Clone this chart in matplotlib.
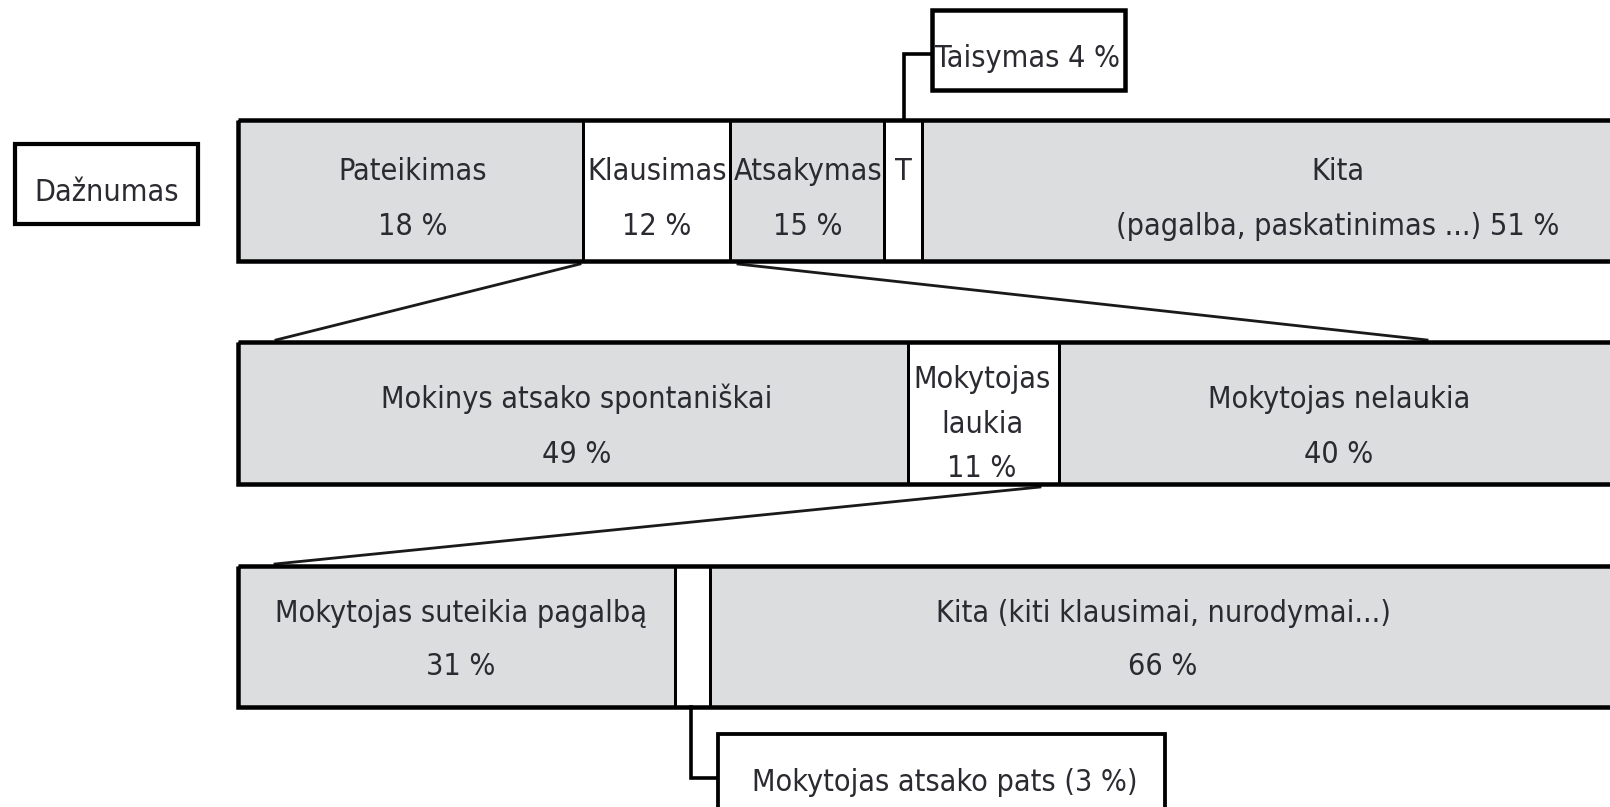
import matplotlib
matplotlib.use('Agg')
import matplotlib.pyplot as plt
from matplotlib.patches import Rectangle
from matplotlib.lines import Line2D
from matplotlib import font_manager
import numpy as np

# ---------------- data ----------------
row_title = 'Dažnumas'
top_labels = ['Pateikimas', 'Klausimas', 'Atsakymas', 'T', 'Kita\n(pagalba, paskatinimas ...)']
top_values = [18, 12, 15, 4, 51]
top_callout = 'Taisymas'
mid_labels = ['Mokinys atsako spontaniškai', 'Mokytojas\nlaukia', 'Mokytojas nelaukia']
mid_values = [49, 11, 40]
bottom_labels = ['Mokytojas suteikia pagalbą', 'Mokytojas atsako pats', 'Kita (kiti klausimai, nurodymai...)']
bottom_values = [31, 3, 66]

# ---------------- layout (pixel space) ----------------
W, H = 1610, 807
DPI = 100
GRAY = '#dcdddf'
TXT = '#2b2a30'
PX = 72.0 / DPI  # points per pixel

fig = plt.figure(figsize=(W / DPI, H / DPI), dpi=DPI)
ax = fig.add_axes([0, 0, 1, 1])
ax.set_xlim(0, W)
ax.set_ylim(H, 0)
ax.axis('off')

FAMILY = ['Liberation Sans Narrow', 'DejaVu Sans']


def fp(size):
    return font_manager.FontProperties(family=FAMILY, stretch='condensed', size=size)


# fit one font size to the reference text widths (pixels)
ref_widths = {'Pateikimas': 158, 'Mokinys atsako spontaniškai': 423,
              'Mokytojas suteikia pagalbą': 399, 'Mokytojas atsako pats (3 %)': 404,
              'Taisymas 4 %': 187, 'Dažnumas': 156, 'Mokytojas nelaukia': 285}
renderer = fig.canvas.get_renderer()
ratios = []
for s, wref in ref_widths.items():
    t = ax.text(0, 0, s, fontproperties=fp(20))
    ratios.append(wref / t.get_window_extent(renderer=renderer).width)
    t.remove()
t = ax.text(0, 0, 'Klausimas', fontproperties=fp(20))
cap = 139.0 / t.get_window_extent(renderer=renderer).width
t.remove()
FS = 20 * min(float(np.median(ratios)), cap)


def txt(x, y, s):
    ax.text(x, y, s, ha='center', va='baseline', color=TXT, fontproperties=fp(FS))


rows = [
    dict(y0=120, y1=261, edges=[238, 583, 730, 884, 922, 1660],
         fills=[GRAY, 'white', GRAY, 'white', GRAY],
         centers=[413, 657, 808, 903, 1338],
         labels=top_labels, values=top_values,
         modes=['stack', 'stack', 'stack', 'only', 'inline'],
         base=(180, 235)),
    dict(y0=342, y1=484, edges=[238, 908, 1059, 1660],
         fills=[GRAY, 'white', GRAY],
         centers=[577, 982, 1339],
         labels=mid_labels, values=mid_values,
         modes=['stack', 'stack3', 'stack'],
         base=(408, 463)),
    dict(y0=566, y1=707, edges=[238, 675, 710, 1660],
         fills=[GRAY, 'white', GRAY],
         centers=[461, 692, 1163],
         labels=bottom_labels, values=bottom_values,
         modes=['stack', 'none', 'stack'],
         base=(622, 675)),
]

for r in rows:
    y0, y1, e = r['y0'], r['y1'], r['edges']
    for i, fc in enumerate(r['fills']):
        ax.add_patch(Rectangle((e[i], y0), e[i + 1] - e[i], y1 - y0,
                               facecolor=fc, edgecolor='none', zorder=1))
    for xd in e[1:-1]:
        ax.add_line(Line2D([xd, xd], [y0, y1], color='black', lw=3 * PX, zorder=2))
    ax.add_patch(Rectangle((e[0], y0), e[-1] - e[0], y1 - y0, facecolor='none',
                           edgecolor='black', lw=4.5 * PX, joinstyle='miter', zorder=3))
    b1, b2 = r['base']
    for cx, lab, val, mode in zip(r['centers'], r['labels'], r['values'], r['modes']):
        if mode == 'stack':
            txt(cx, b1, lab)
            txt(cx, b2, f'{val} %')
        elif mode == 'only':
            txt(cx, b1, lab[0])
        elif mode == 'inline':
            l1, l2 = lab.split('\n')
            txt(cx, b1, l1)
            txt(cx, b2, f'{l2} {val} %')
        elif mode == 'stack3':
            l1, l2 = lab.split('\n')
            txt(cx, 388, l1)
            txt(cx, 433, l2)
            txt(cx, 477, f'{val} %')

# row title box
ax.add_patch(Rectangle((15, 144), 183, 80, facecolor='white', edgecolor='black',
                       lw=4.2 * PX, joinstyle='miter', zorder=3))
txt(107, 201, row_title)

# Taisymas callout (T segment of the top row)
ax.add_patch(Rectangle((932, 10), 193, 80, facecolor='white', edgecolor='black',
                       lw=4.5 * PX, joinstyle='miter', zorder=3))
ax.add_line(Line2D([904, 904, 932], [120, 54, 54], color='black', lw=3.6 * PX,
                   solid_joinstyle='miter', zorder=2))
txt(1027, 67, f'{top_callout} {top_values[3]} %')

# Mokytojas atsako pats callout (small segment of bottom row)
ax.add_patch(Rectangle((718, 734), 447, 120, facecolor='white', edgecolor='black',
                       lw=3.8 * PX, joinstyle='miter', zorder=3))
ax.add_line(Line2D([691, 691, 718], [707, 778, 778], color='black', lw=3.6 * PX,
                   solid_joinstyle='miter', zorder=2))
txt(945, 791, f'{bottom_labels[1]} ({bottom_values[1]} %)')

# zoom (funnel) lines
for (xa, ya, xb, yb) in [(580, 264, 276, 340), (738, 264, 1427, 340), (1040, 487, 275, 564)]:
    ax.add_line(Line2D([xa, xb], [ya, yb], color='#1a1a1a', lw=2.8 * PX, zorder=2))

fig.savefig('out.png', dpi=DPI, facecolor='white')
